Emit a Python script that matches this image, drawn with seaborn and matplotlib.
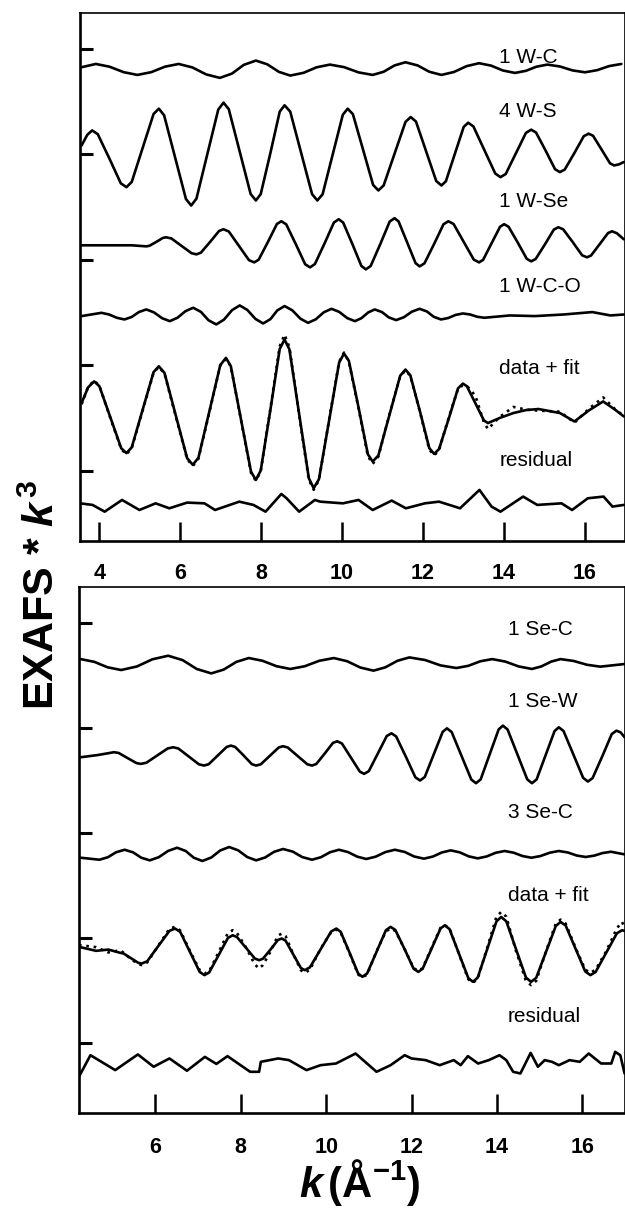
import numpy as np
import pandas as pd
import matplotlib.pyplot as plt
import seaborn as sns

# k axis values (A^-1) and EXAFS*k^3 (arbitrary units, one y tick = 10)

# ---- upper panel (W edge) ----
w_c_k = [3.56, 3.91, 4.25, 4.60, 4.94, 5.28, 5.62, 5.96, 6.30, 6.64, 6.98, 7.28, 7.57, 7.87, 8.15,
         8.44, 8.72, 9.05, 9.37, 9.70, 10.05, 10.41, 10.76, 11.03, 11.30, 11.57, 11.87, 12.16, 12.46,
         12.77, 13.08, 13.39, 13.69, 13.98, 14.28, 14.55, 14.81, 15.08, 15.39, 15.70, 16.01, 16.31,
         16.61, 16.91]
w_c_y = [0.16, 0.47, 0.21, -0.31, -0.57, -0.31, 0.21, 0.47, 0.14, -0.52, -0.85, -0.44, 0.38, 0.79,
         0.44, -0.28, -0.63, -0.37, 0.15, 0.41, 0.17, -0.33, -0.57, -0.27, 0.33, 0.63, 0.33, -0.27,
         -0.57, -0.29, 0.26, 0.54, 0.31, -0.15, -0.38, -0.18, 0.21, 0.41, 0.23, -0.14, -0.32, -0.12,
         0.27, 0.47]

w_s_k = [3.56, 3.70, 3.82, 3.96, 4.25, 4.53, 4.67, 4.80, 5.07, 5.34, 5.47, 5.60, 5.87, 6.14, 6.27,
         6.40, 6.67, 6.94, 7.07, 7.20, 7.47, 7.74, 7.87, 7.99, 8.23, 8.46, 8.58, 8.72, 8.99, 9.26,
         9.39, 9.52, 9.77, 10.02, 10.14, 10.27, 10.52, 10.77, 10.90, 11.03, 11.30, 11.57, 11.70,
         11.83, 12.08, 12.33, 12.46, 12.57, 12.79, 13.01, 13.12, 13.25, 13.52, 13.79, 13.92, 14.05,
         14.30, 14.55, 14.68, 14.80, 15.04, 15.27, 15.39, 15.51, 15.75, 15.98, 16.10, 16.21, 16.42,
         16.63, 16.73, 16.85, 16.97]
w_s_y = [0.95, 1.95, 2.37, 2.01, -0.32, -2.65, -3.01, -2.51, 0.71, 3.93, 4.43, 3.81, -0.16, -4.13,
         -4.75, -4.10, 0.13, 4.35, 5.0, 4.38, 0.37, -3.65, -4.27, -3.67, 0.24, 4.15, 4.75, 4.15,
         0.24, -3.67, -4.27, -3.69, 0.08, 3.85, 4.43, 3.91, 0.56, -2.80, -3.32, -2.85, 0.16, 3.17,
         3.64, 3.21, 0.40, -2.42, -2.85, -2.45, 0.13, 2.70, 3.10, 2.75, 0.52, -1.71, -2.06, -1.76,
         0.19, 2.14, 2.44, 2.17, 0.43, -1.31, -1.58, -1.34, 0.24, 1.82, 2.06, 1.86, 0.56, -0.75,
         -0.95, -0.85, -0.63]

w_se_k = [3.56, 4.80, 5.16, 5.24, 5.41, 5.57, 5.65, 5.78, 6.03, 6.28, 6.40, 6.51, 6.74, 6.96, 7.07,
          7.20, 7.45, 7.70, 7.83, 7.94, 8.17, 8.39, 8.50, 8.62, 8.86, 9.09, 9.21, 9.33, 9.57, 9.80,
          9.92, 10.03, 10.26, 10.48, 10.59, 10.71, 10.95, 11.18, 11.30, 11.40, 11.61, 11.82, 11.92,
          12.04, 12.28, 12.51, 12.63, 12.76, 13.01, 13.26, 13.39, 13.49, 13.70, 13.91, 14.01, 14.12,
          14.35, 14.57, 14.68, 14.79, 15.02, 15.24, 15.35, 15.47, 15.71, 15.94, 16.06, 16.16, 16.37,
          16.58, 16.68, 16.80, 16.97]
w_se_y = [-0.19, -0.19, -0.29, -0.23, 0.14, 0.51, 0.57, 0.46, -0.24, -0.94, -1.05, -0.89, 0.14,
          1.17, 1.33, 1.12, -0.24, -1.60, -1.81, -1.55, 0.14, 1.83, 2.09, 1.80, -0.10, -1.99, -2.28,
          -1.97, 0.0, 1.97, 2.28, 1.96, -0.10, -2.15, -2.47, -2.15, -0.05, 2.06, 2.38, 2.07, 0.10,
          -1.88, -2.19, -1.90, -0.05, 1.80, 2.09, 1.83, 0.14, -1.55, -1.81, -1.57, 0.0, 1.57, 1.81,
          1.57, 0.05, -1.47, -1.71, -1.49, -0.10, 1.30, 1.52, 1.33, 0.10, -1.14, -1.33, -1.16, -0.10,
          0.97, 1.14, 0.95, 0.38]

w_co_k = [3.56, 4.05, 4.24, 4.43, 4.62, 4.80, 4.98, 5.16, 5.35, 5.55, 5.74, 5.93, 6.13, 6.32, 6.51,
          6.70, 6.89, 7.08, 7.28, 7.47, 7.66, 7.86, 8.05, 8.23, 8.40, 8.58, 8.77, 8.97, 9.16, 9.35,
          9.55, 9.74, 9.93, 10.13, 10.32, 10.48, 10.65, 10.81, 10.99, 11.16, 11.34, 11.53, 11.73,
          11.92, 12.10, 12.27, 12.45, 12.63, 12.81, 12.99, 13.17, 13.34, 13.52, 14.15, 14.77, 15.48,
          16.19, 16.64, 16.97]
w_co_y = [-0.06, 0.25, 0.09, -0.22, -0.38, -0.14, 0.33, 0.57, 0.29, -0.26, -0.54, -0.22, 0.41, 0.73,
          0.34, -0.46, -0.85, -0.40, 0.50, 0.95, 0.52, -0.33, -0.76, -0.35, 0.48, 0.89, 0.49, -0.30,
          -0.70, -0.37, 0.30, 0.63, 0.34, -0.25, -0.54, -0.26, 0.29, 0.57, 0.32, -0.19, -0.44, -0.17,
          0.36, 0.63, 0.38, -0.13, -0.38, -0.24, 0.05, 0.19, 0.09, -0.12, -0.22, 0.0, -0.06, 0.09,
          0.32, 0.0, 0.09]

w_fit_k = [3.56, 3.72, 3.87, 4.00, 4.27, 4.54, 4.67, 4.80, 5.07, 5.34, 5.47, 5.61, 5.89, 6.17, 6.31,
           6.45, 6.72, 6.99, 7.13, 7.25, 7.50, 7.75, 7.87, 7.99, 8.23, 8.46, 8.58, 8.70, 8.94, 9.18,
           9.30, 9.43, 9.68, 9.93, 10.05, 10.17, 10.41, 10.64, 10.76, 10.90, 11.17, 11.44, 11.57,
           11.69, 11.93, 12.16, 12.28, 12.40, 12.64, 12.87, 12.99, 13.09, 13.30, 13.51, 13.61, 13.90,
           14.24, 14.55, 14.86, 15.39, 15.75, 16.10, 16.46, 16.75, 16.97]
w_fit_y = [0.92, 2.40, 2.97, 2.51, -0.43, -3.37, -3.83, -3.28, 0.29, 3.85, 4.40, 3.77, -0.27, -4.31,
           -4.94, -4.26, 0.13, 4.52, 5.20, 4.42, -0.59, -5.59, -6.37, -5.48, 0.29, 6.05, 6.94, 6.00,
           -0.11, -6.21, -7.15, -6.30, -0.77, 4.76, 5.61, 4.92, 0.49, -3.94, -4.63, -4.05, -0.27,
           3.51, 4.09, 3.55, 0.10, -3.36, -3.90, -3.45, -0.57, 2.31, 2.76, 2.51, 0.89, -0.73, -0.98,
           -0.50, -0.03, 0.25, 0.35, -0.03, -0.83, 0.20, 1.07, 0.30, -0.35]
w_data_y = [0.80, 2.45, 3.05, 2.55, -0.50, -3.45, -3.95, -3.35, 0.20, 3.80, 4.35, 3.70, -0.35, -4.40,
            -5.05, -4.35, 0.05, 4.50, 5.10, 4.40, -0.65, -5.70, -6.45, -5.55, 0.40, 6.30, 7.40, 6.20,
            -0.20, -6.35, -7.30, -6.40, -0.70, 4.85, 5.70, 4.85, 0.40, -4.10, -4.85, -4.15, -0.20,
            3.45, 4.00, 3.50, 0.05, -3.50, -4.05, -3.55, -0.45, 2.25, 2.60, 2.55, 1.60, -0.90, -1.55,
            -0.40, 0.55, 0.30, 0.20, 0.10, -0.95, 0.35, 1.45, 0.35, -0.30]

w_res_k = [3.52, 3.83, 4.13, 4.56, 4.99, 5.39, 5.73, 6.17, 6.60, 6.86, 7.46, 7.81, 8.11, 8.50, 8.63,
           8.94, 9.33, 9.46, 10.02, 10.41, 10.76, 11.23, 11.58, 12.05, 12.40, 12.92, 13.40, 13.70,
           13.92, 14.48, 14.83, 15.43, 15.69, 16.08, 16.47, 16.69, 16.97]
w_res_y = [0.06, -0.09, -0.73, 0.38, -0.57, 0.06, -0.41, 0.13, 0.06, -0.57, 0.22, -0.09, -0.73, 0.95,
           0.54, -0.73, 0.38, 0.22, 0.06, 0.38, -0.57, 0.32, -0.41, 0.06, 0.22, -0.41, 1.33, -0.25,
           -0.73, 0.70, -0.09, 0.06, -0.57, 0.54, 0.70, -0.25, -0.09]

# ---- lower panel (Se edge) ----
se_c_k = [4.25, 4.57, 4.88, 5.20, 5.57, 5.93, 6.30, 6.64, 6.97, 7.31, 7.60, 7.90, 8.19, 8.51, 8.84,
          9.16, 9.50, 9.84, 10.18, 10.49, 10.80, 11.11, 11.39, 11.67, 11.95, 12.32, 12.68, 13.05,
          13.33, 13.61, 13.89, 14.20, 14.51, 14.82, 15.04, 15.27, 15.49, 15.80, 16.11, 16.42, 16.99]
se_c_y = [0.47, 0.21, -0.31, -0.57, -0.23, 0.45, 0.79, 0.37, -0.47, -0.89, -0.53, 0.21, 0.57, 0.31,
          -0.21, -0.47, -0.21, 0.31, 0.57, 0.27, -0.33, -0.63, -0.31, 0.31, 0.63, 0.38, -0.13, -0.38,
          -0.17, 0.26, 0.47, 0.23, -0.23, -0.47, -0.23, 0.23, 0.47, 0.29, -0.07, -0.25, 0.0]

se_w_k = [4.25, 4.65, 5.03, 5.14, 5.35, 5.56, 5.66, 5.79, 6.04, 6.29, 6.42, 6.54, 6.78, 7.02, 7.14,
          7.25, 7.46, 7.67, 7.77, 7.87, 8.07, 8.26, 8.36, 8.47, 8.68, 8.89, 8.99, 9.10, 9.33, 9.56,
          9.67, 9.77, 9.97, 10.16, 10.26, 10.37, 10.58, 10.79, 10.89, 11.00, 11.21, 11.42, 11.53,
          11.64, 11.87, 12.09, 12.20, 12.31, 12.52, 12.73, 12.83, 12.94, 13.17, 13.40, 13.51, 13.62,
          13.83, 14.04, 14.14, 14.25, 14.48, 14.71, 14.82, 14.93, 15.14, 15.35, 15.45, 15.56, 15.79,
          16.02, 16.13, 16.24, 16.47, 16.69, 16.80, 16.90, 16.99]
se_w_y = [-0.16, 0.05, 0.32, 0.25, -0.24, -0.72, -0.79, -0.68, 0.0, 0.68, 0.79, 0.67, -0.08, -0.83,
          -0.95, -0.82, 0.0, 0.82, 0.95, 0.82, 0.0, -0.82, -0.95, -0.83, -0.03, 0.77, 0.89, 0.77,
          -0.03, -0.83, -0.95, -0.80, 0.21, 1.21, 1.36, 1.15, -0.19, -1.53, -1.74, -1.48, 0.19, 1.86,
          2.12, 1.82, -0.13, -2.07, -2.37, -2.04, 0.11, 2.26, 2.59, 2.24, -0.02, -2.28, -2.63, -2.26,
          0.11, 2.48, 2.85, 2.48, 0.11, -2.26, -2.63, -2.27, 0.03, 2.33, 2.69, 2.34, 0.11, -2.12,
          -2.47, -2.15, -0.05, 2.05, 2.37, 2.20, 1.74]

se_c3_k = [4.25, 4.69, 4.89, 5.08, 5.28, 5.48, 5.67, 5.87, 6.08, 6.30, 6.51, 6.71, 6.90, 7.10, 7.31,
           7.52, 7.73, 7.94, 8.15, 8.36, 8.57, 8.78, 8.99, 9.22, 9.44, 9.67, 9.88, 10.09, 10.30,
           10.51, 10.73, 10.94, 11.16, 11.39, 11.61, 11.84, 12.06, 12.29, 12.50, 12.71, 12.92, 13.13,
           13.34, 13.55, 13.76, 13.97, 14.18, 14.39, 14.60, 14.81, 15.02, 15.24, 15.45, 15.66, 15.87,
           16.08, 16.28, 16.47, 16.67, 16.99]
se_c3_y = [-0.32, -0.51, -0.27, 0.20, 0.44, 0.19, -0.32, -0.57, -0.27, 0.33, 0.63, 0.32, -0.32,
           -0.63, -0.30, 0.37, 0.70, 0.38, -0.25, -0.57, -0.30, 0.24, 0.51, 0.26, -0.26, -0.51,
           -0.27, 0.20, 0.44, 0.22, -0.22, -0.44, -0.22, 0.22, 0.44, 0.23, -0.20, -0.41, -0.21, 0.18,
           0.38, 0.19, -0.19, -0.38, -0.20, 0.15, 0.32, 0.16, -0.16, -0.32, -0.16, 0.16, 0.32, 0.18,
           -0.11, -0.25, -0.12, 0.12, 0.25, 0.0]

se_fit_k = [4.21, 4.61, 4.90, 5.18, 5.26, 5.43, 5.60, 5.68, 5.81, 6.07, 6.33, 6.46, 6.58, 6.81, 7.04,
            7.15, 7.26, 7.48, 7.70, 7.81, 7.91, 8.12, 8.33, 8.43, 8.52, 8.70, 8.87, 8.96, 9.05, 9.23,
            9.41, 9.50, 9.62, 9.87, 10.12, 10.24, 10.34, 10.55, 10.75, 10.85, 10.96, 11.18, 11.40,
            11.51, 11.62, 11.84, 12.05, 12.16, 12.26, 12.47, 12.68, 12.78, 12.89, 13.11, 13.33, 13.44,
            13.55, 13.77, 13.99, 14.10, 14.22, 14.45, 14.68, 14.80, 14.92, 15.15, 15.38, 15.49, 15.61,
            15.84, 16.07, 16.19, 16.31, 16.56, 16.81, 16.93, 16.99]
se_fit_y = [0.13, -0.25, -0.13, -0.44, -0.51, -0.95, -1.39, -1.46, -1.24, 0.21, 1.65, 1.87, 1.57,
            -0.35, -2.26, -2.56, -2.31, -0.67, 0.98, 1.23, 1.07, 0.05, -0.98, -1.14, -1.00, -0.11,
            0.78, 0.92, 0.72, -0.59, -1.89, -2.09, -1.82, -0.11, 1.60, 1.87, 1.56, -0.43, -2.41,
            -2.72, -2.40, -0.35, 1.71, 2.03, 1.74, -0.11, -1.96, -2.25, -1.95, -0.04, 1.88, 2.18,
            1.82, -0.51, -2.84, -3.20, -2.79, -0.12, 2.56, 2.97, 2.56, -0.12, -2.79, -3.20, -2.82,
            -0.35, 2.12, 2.50, 2.16, -0.03, -2.22, -2.56, -2.27, -0.43, 1.42, 1.71, 1.65]
se_data_y = [0.30, 0.10, -0.40, -0.20, -0.45, -1.05, -1.50, -1.60, -1.35, 0.25, 1.85, 2.03, 1.70,
             -0.25, -2.10, -2.41, -2.20, -0.40, 1.45, 1.71, 1.45, 0.10, -1.55, -1.93, -1.60, -0.30,
             1.20, 1.39, 1.15, -0.55, -2.10, -2.34, -2.05, -0.05, 1.55, 1.77, 1.50, -0.50, -2.50,
             -2.78, -2.50, -0.30, 1.60, 1.87, 1.65, -0.10, -1.90, -2.15, -1.90, 0.05, 1.95, 2.18,
             1.90, -0.55, -2.95, -3.29, -2.90, 0.00, 3.00, 3.45, 3.00, -0.30, -3.10, -3.51, -3.10,
             -0.30, 2.35, 2.72, 2.35, 0.05, -2.05, -2.34, -2.05, -0.30, 1.90, 2.50, 2.00]

se_res_k = [4.21, 4.48, 5.06, 5.59, 5.96, 6.33, 6.74, 7.16, 7.43, 7.69, 8.22, 8.43, 8.47, 8.88, 9.13,
            9.54, 9.87, 10.23, 10.69, 11.18, 11.51, 11.84, 12.00, 12.33, 12.66, 12.99, 13.15, 13.32,
            13.56, 13.81, 14.06, 14.22, 14.38, 14.55, 14.79, 14.96, 15.12, 15.29, 15.45, 15.70, 15.94,
            16.15, 16.44, 16.68, 16.77, 16.89, 16.99]
se_res_y = [-1.42, 0.63, -0.79, 0.70, -0.47, 0.32, -0.85, 0.47, -0.20, 0.54, -0.95, -0.95, 0.00, 0.32,
            0.16, -0.79, -0.32, -0.16, 0.79, -0.95, -0.32, 0.63, 0.32, 0.16, -0.32, 0.16, -0.32, 0.54,
            -0.16, 0.16, 0.63, 0.16, -0.95, -1.11, 0.85, -0.47, 0.16, 0.00, -0.32, 0.16, 0.00, 0.79,
            -0.16, -0.16, 0.95, 0.63, -1.11]

# offsets of the stacked curves and their labels
top_labels = ['1 W-C', '4 W-S', '1 W-Se', '1 W-C-O', 'data + fit', 'residual']
top_offsets = [38.1, 29.9, 21.57, 14.73, 5.51, -3.14]
top_label_y = [39.2, 34.1, 25.5, 17.5, 9.7, 0.95]

bot_labels = ['1 Se-C', '1 Se-W', '3 Se-C', 'data + fit', 'residual']
bot_offsets = [36.07, 27.36, 17.96, 9.03, -1.78]
bot_label_y = [39.4, 32.5, 21.9, 14.0, 2.5]

sns.set_style('ticks')
plt.rcParams['font.family'] = ['Liberation Sans', 'DejaVu Sans']
plt.rcParams.update({
    'text.color': 'black', 'axes.labelcolor': 'black', 'axes.edgecolor': 'black',
    'xtick.color': 'black', 'ytick.color': 'black',
    'mathtext.fontset': 'custom', 'mathtext.rm': 'Liberation Sans',
    'mathtext.bf': 'Liberation Sans:bold', 'mathtext.it': 'Liberation Sans:italic',
    'mathtext.bfit': 'Liberation Sans:italic:bold',
})

fig = plt.figure(figsize=(6.25, 12.08), dpi=100)
ax_top = fig.add_axes([80 / 625, 1 - 541 / 1208, 1 - 80 / 625, 528 / 1208])
ax_bot = fig.add_axes([78.5 / 625, 1 - 1113 / 1208, 1 - 78.5 / 625, 526 / 1208])


def draw(ax, k, y, base, ls='-'):
    df = pd.DataFrame({'k': k, 'chi': np.asarray(y) + base})
    sns.lineplot(data=df, x='k', y='chi', ax=ax, color='black', lw=1.9,
                 estimator=None, sort=False, linestyle=ls,
                 solid_joinstyle='round', solid_capstyle='round')


top_curves = [(w_c_k, w_c_y), (w_s_k, w_s_y), (w_se_k, w_se_y), (w_co_k, w_co_y),
              (w_fit_k, w_fit_y), (w_res_k, w_res_y)]
for (k, y), off in zip(top_curves, top_offsets):
    draw(ax_top, k, y, off)
draw(ax_top, w_fit_k, w_data_y, top_offsets[4], ls=(0, (1, 1.8)))

bot_curves = [(se_c_k, se_c_y), (se_w_k, se_w_y), (se_c3_k, se_c3_y), (se_fit_k, se_fit_y),
              (se_res_k, se_res_y)]
for (k, y), off in zip(bot_curves, bot_offsets):
    draw(ax_bot, k, y, off)
draw(ax_bot, se_fit_k, se_data_y, bot_offsets[3], ls=(0, (1, 1.8)))

for lab, yy in zip(top_labels, top_label_y):
    ax_top.text(13.89, yy, lab, fontsize=15, va='center', ha='left', color='black')
for lab, yy in zip(bot_labels, bot_label_y):
    ax_bot.text(14.26, yy, lab, fontsize=15, va='center', ha='left', color='black')

ax_top.set_xlim(3.52, 17.0)
ax_bot.set_xlim(4.2, 17.0)
ax_top.set_xticks([4, 6, 8, 10, 12, 14, 16])
ax_bot.set_xticks([6, 8, 10, 12, 14, 16])
for ax, pad in [(ax_top, 15.5), (ax_bot, 17)]:
    ax.set_ylim(-6.65, 43.4)
    ax.set_yticks([0, 10, 20, 30, 40])
    ax.set_yticklabels([])
    ax.set_xlabel('')
    ax.set_ylabel('')
    ax.tick_params(axis='y', direction='in', length=9.5, width=2.2, color='black')
    ax.tick_params(axis='x', direction='in', length=13.5, width=1.8, pad=pad,
                   labelsize=15.5, color='black', labelcolor='black')
    for lbl in ax.get_xticklabels():
        lbl.set_fontweight('bold')
    for side, w in [('left', 1.9), ('bottom', 1.9), ('top', 1.2), ('right', 1.2)]:
        ax.spines[side].set_linewidth(w)
        ax.spines[side].set_color('black')

fig.text(0.069, 0.5075, r'EXAFS * $\mathbfit{k}^{\,\mathbf{3}}$', rotation=90,
         fontsize=31, fontweight='bold', ha='center', va='center')
fig.text(0.576, 0.0215, r'$\mathbfit{k}\,\mathbf{(Å^{-1})}$', fontsize=30,
         ha='center', va='center')

fig.savefig('out.png', dpi=100)
